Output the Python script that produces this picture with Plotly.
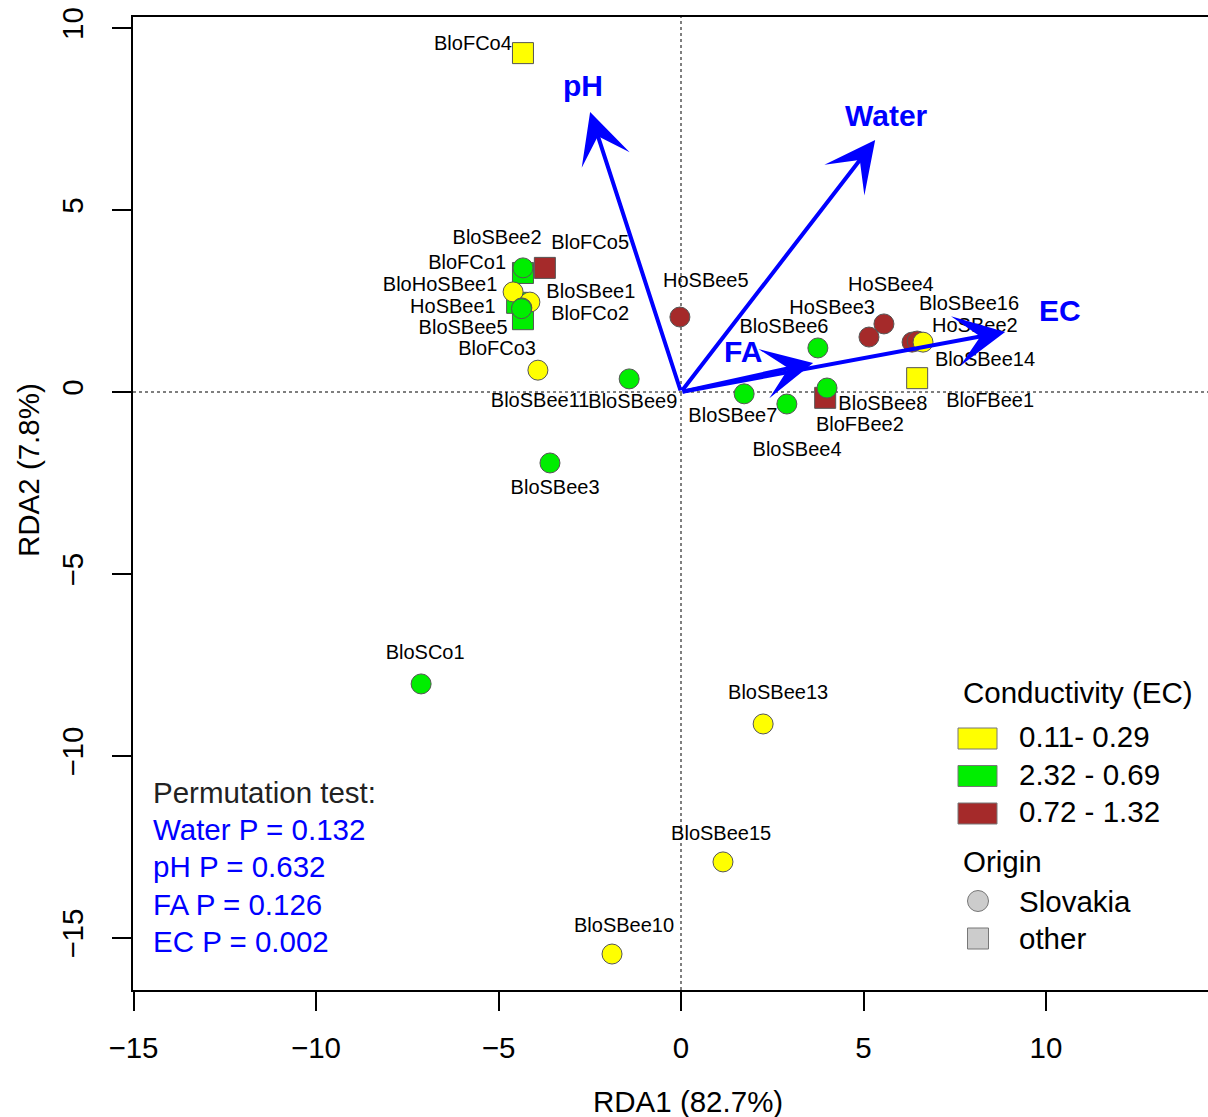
import plotly.graph_objects as go

# ---------------- data ----------------
names = ["BloFCo4",
         "BloFCo1", "BloFCo2", "BloFCo3", "BloFCo5",
         "BloSBee2", "BloHoSBee1", "BloSBee1", "HoSBee1", "BloSBee5",
         "BloSBee11", "BloSBee9",
         "HoSBee5", "BloSBee6", "HoSBee3", "HoSBee4", "HoSBee2", "BloSBee16", "BloSBee14",
         "BloFBee1", "BloSBee7", "BloSBee4", "BloFBee2", "BloSBee8",
         "BloSBee3", "BloSCo1", "BloSBee13", "BloSBee15", "BloSBee10"]
rda1 = [-4.33,
        -4.33, -4.49, -4.33, -3.73,
        -4.33, -4.60, -4.14, -4.36, -4.37,
        -3.92, -1.42,
        -0.03, 3.75, 5.15, 5.56, 6.33, 6.47, 6.63,
        6.47, 1.73, 2.90, 3.95, 4.00,
        -3.59, -7.12, 2.25, 1.15, -1.89]
rda2 = [9.31,
        3.27, 2.45, 2.00, 3.41,
        3.41, 2.75, 2.47, 2.31, 2.29,
        0.60, 0.36,
        2.06, 1.21, 1.51, 1.87, 1.37, 1.40, 1.37,
        0.38, -0.05, -0.33, -0.16, 0.11,
        -1.95, -8.02, -9.12, -12.91, -15.44]
ec_group = ["low",
            "mid", "mid", "mid", "high",
            "mid", "low", "low", "mid", "mid",
            "low", "mid",
            "high", "mid", "high", "high", "high", "high", "low",
            "low", "mid", "mid", "high", "mid",
            "mid", "mid", "low", "low", "low"]
origin = ["other",
          "other", "other", "other", "other",
          "Slovakia", "Slovakia", "Slovakia", "Slovakia", "Slovakia",
          "Slovakia", "Slovakia",
          "Slovakia", "Slovakia", "Slovakia", "Slovakia", "Slovakia", "Slovakia", "Slovakia",
          "other", "Slovakia", "Slovakia", "other", "Slovakia",
          "Slovakia", "Slovakia", "Slovakia", "Slovakia", "Slovakia"]
# label positions (as given by the point-label placement)
lab_x = [-5.70,
         -5.86, -2.49, -5.04, -2.49,
         -5.04, -6.60, -2.47, -6.25, -5.97,
         -3.86, -1.32,
         0.68, 2.82, 4.14, 5.75, 8.05, 7.89, 8.33,
         8.47, 1.42, 3.18, 4.90, 5.53,
         -3.45, -7.01, 2.66, 1.10, -1.56]
lab_y = [9.53,
         3.52, 2.12, 1.15, 4.07,
         4.20, 2.91, 2.72, 2.31, 1.73,
         -0.27, -0.30,
         3.02, 1.76, 2.28, 2.91, 1.79, 2.39, 0.85,
         -0.27, -0.69, -1.62, -0.93, -0.36,
         -2.66, -7.20, -8.30, -12.17, -14.70]

# environmental vectors (biplot arrows)
env_names = ["pH", "Water", "FA", "EC"]
env_x = [-2.49, 5.32, 3.62, 8.88]
env_y = [7.69, 6.92, 0.80, 1.65]
env_lab_x = [-2.68, 5.64, 1.70, 10.38]
env_lab_y = [8.43, 7.61, 1.10, 2.23]

perm_lines = ["Water P = 0.132", "pH P = 0.632", "FA P = 0.126", "EC P = 0.002"]

ec_levels = ["low", "mid", "high"]
ec_labels = ["0.11- 0.29", "2.32 - 0.69", "0.72 - 1.32"]
ec_colors = {"low": "#FFFF00", "mid": "#00EE00", "high": "#A52A2A"}
origin_levels = ["Slovakia", "other"]
origin_symbols = {"Slovakia": "circle", "other": "square"}

# ---------------- layout geometry ----------------
W, H = 1208, 1117
L, T, R, B = 133, 17, 0, 127
X0PX, XSC = 681.0, 36.5   # pixel of x=0, px per unit
Y0PX, YSC = 392.0, 36.4
xr = [(L - X0PX) / XSC, (W - R - X0PX) / XSC]
yr = [(Y0PX - (H - B)) / YSC, (Y0PX - T) / YSC]
PW, PH = W - L - R, H - T - B


def px2x(px):
    return (px - X0PX) / XSC


def px2y(py):
    return (Y0PX - py) / YSC


def ppx(px):
    return (px - L) / PW


def ppy(py):
    return (H - B - py) / PH


FONT = "Liberation Sans, Arial, sans-serif"
BLUE = "#0000FF"
TS = 29.5

fig = go.Figure()

# points: squares first, then circles
for org in ["other", "Slovakia"]:
    idx = [i for i in range(len(names)) if origin[i] == org]
    fig.add_trace(go.Scatter(
        x=[rda1[i] for i in idx], y=[rda2[i] for i in idx],
        mode="markers",
        marker=dict(symbol=origin_symbols[org], size=21 if org == "other" else 20,
                    color=[ec_colors[ec_group[i]] for i in idx],
                    line=dict(color="#555555", width=1)),
        text=[names[i] for i in idx], hoverinfo="text", showlegend=False))

# point labels
fig.add_trace(go.Scatter(x=lab_x, y=lab_y, mode="text", text=names,
                         textposition="middle center",
                         textfont=dict(family=FONT, size=20, color="black"),
                         hoverinfo="skip", showlegend=False))

# dotted reference lines
fig.add_shape(type="line", x0=0, x1=0, y0=yr[0], y1=yr[1], xref="x", yref="y",
              line=dict(color="#555555", width=1.5, dash="dot"), layer="below")
fig.add_shape(type="line", x0=xr[0], x1=xr[1], y0=0, y1=0, xref="x", yref="y",
              line=dict(color="#555555", width=1.5, dash="dot"), layer="below")

annotations = []
# biplot arrows
for nm, ex, ey, lx, ly in zip(env_names, env_x, env_y, env_lab_x, env_lab_y):
    annotations.append(dict(x=ex, y=ey, ax=0, ay=0, xref="x", yref="y", axref="x", ayref="y",
                            showarrow=True, arrowhead=3, arrowsize=2.1, arrowwidth=4,
                            arrowcolor=BLUE, text=""))
    annotations.append(dict(x=lx, y=ly, xref="x", yref="y", showarrow=False, text="<b>%s</b>" % nm,
                            font=dict(family=FONT, size=30, color=BLUE),
                            xanchor="center", yanchor="middle"))

# permutation test text
annotations.append(dict(x=ppx(151), y=ppy(792), xref="paper", yref="paper", showarrow=False,
                        text="Permutation test:", xanchor="left", yanchor="middle",
                        font=dict(family=FONT, size=TS, color="#222222")))
for k, line in enumerate(perm_lines):
    annotations.append(dict(x=ppx(151), y=ppy(829 + 37.5 * k), xref="paper", yref="paper",
                            showarrow=False, text=line, xanchor="left", yanchor="middle",
                            font=dict(family=FONT, size=TS, color=BLUE)))

# legend: conductivity
annotations.append(dict(x=ppx(961), y=ppy(692), xref="paper", yref="paper", showarrow=False,
                        text="Conductivity (EC)", xanchor="left", yanchor="middle",
                        font=dict(family=FONT, size=TS, color="black")))
for k, (lev, lab) in enumerate(zip(ec_levels, ec_labels)):
    cy = 738.5 + 37.5 * k
    fig.add_shape(type="rect", xref="paper", yref="paper",
                  x0=ppx(958), x1=ppx(997), y0=ppy(cy + 10.5), y1=ppy(cy - 10.5),
                  fillcolor=ec_colors[lev], line=dict(color="#777777", width=1))
    annotations.append(dict(x=ppx(1017), y=ppy(cy - 2), xref="paper", yref="paper", showarrow=False,
                            text=lab, xanchor="left", yanchor="middle",
                            font=dict(family=FONT, size=TS, color="black")))
# legend: origin
annotations.append(dict(x=ppx(961), y=ppy(861), xref="paper", yref="paper", showarrow=False,
                        text="Origin", xanchor="left", yanchor="middle",
                        font=dict(family=FONT, size=TS, color="black")))
for k, org in enumerate(origin_levels):
    cy = 901 + 37.5 * k
    fig.add_trace(go.Scatter(x=[px2x(978)], y=[px2y(cy)], mode="markers",
                             marker=dict(symbol=origin_symbols[org], size=21, color="#CCCCCC",
                                         line=dict(color="#777777", width=1)),
                             hoverinfo="skip", showlegend=False))
    annotations.append(dict(x=ppx(1017), y=ppy(cy), xref="paper", yref="paper", showarrow=False,
                            text=org, xanchor="left", yanchor="middle",
                            font=dict(family=FONT, size=TS, color="black")))

# axis titles
annotations.append(dict(x=ppx(688), y=ppy(1101), xref="paper", yref="paper", showarrow=False,
                        text="RDA1 (82.7%)", xanchor="center", yanchor="middle",
                        font=dict(family=FONT, size=TS, color="black")))
annotations.append(dict(x=ppx(28), y=ppy(470), xref="paper", yref="paper", showarrow=False,
                        text="RDA2 (7.8%)", textangle=-90, xanchor="center", yanchor="middle",
                        font=dict(family=FONT, size=TS, color="black")))

fig.update_layout(
    width=W, height=H, autosize=False,
    margin=dict(l=L, r=R, t=T, b=B, pad=0),
    plot_bgcolor="white", paper_bgcolor="white",
    annotations=annotations,
    xaxis=dict(range=xr, showgrid=False, zeroline=False, showline=True, mirror=True,
               linecolor="black", linewidth=1.8,
               tickmode="array", tickvals=[-15, -10, -5, 0, 5, 10],
               ticks="outside", ticklen=19, tickwidth=1.8, tickcolor="black",
               ticklabelstandoff=12,
               tickfont=dict(family=FONT, size=TS, color="black")),
    yaxis=dict(range=yr, showgrid=False, zeroline=False, showline=True, mirror=False,
               linecolor="black", linewidth=1.8,
               tickmode="array", tickvals=[-15, -10, -5, 0, 5, 10],
               ticks="outside", ticklen=19, tickwidth=1.8, tickcolor="black",
               tickangle=-90, ticklabelstandoff=17,
               tickfont=dict(family=FONT, size=TS, color="black")),
    font=dict(family=FONT),
)

fig.write_html("out.html", config={"displayModeBar": False},
               post_script="document.body.style.margin='0';document.body.style.overflow='hidden';")
